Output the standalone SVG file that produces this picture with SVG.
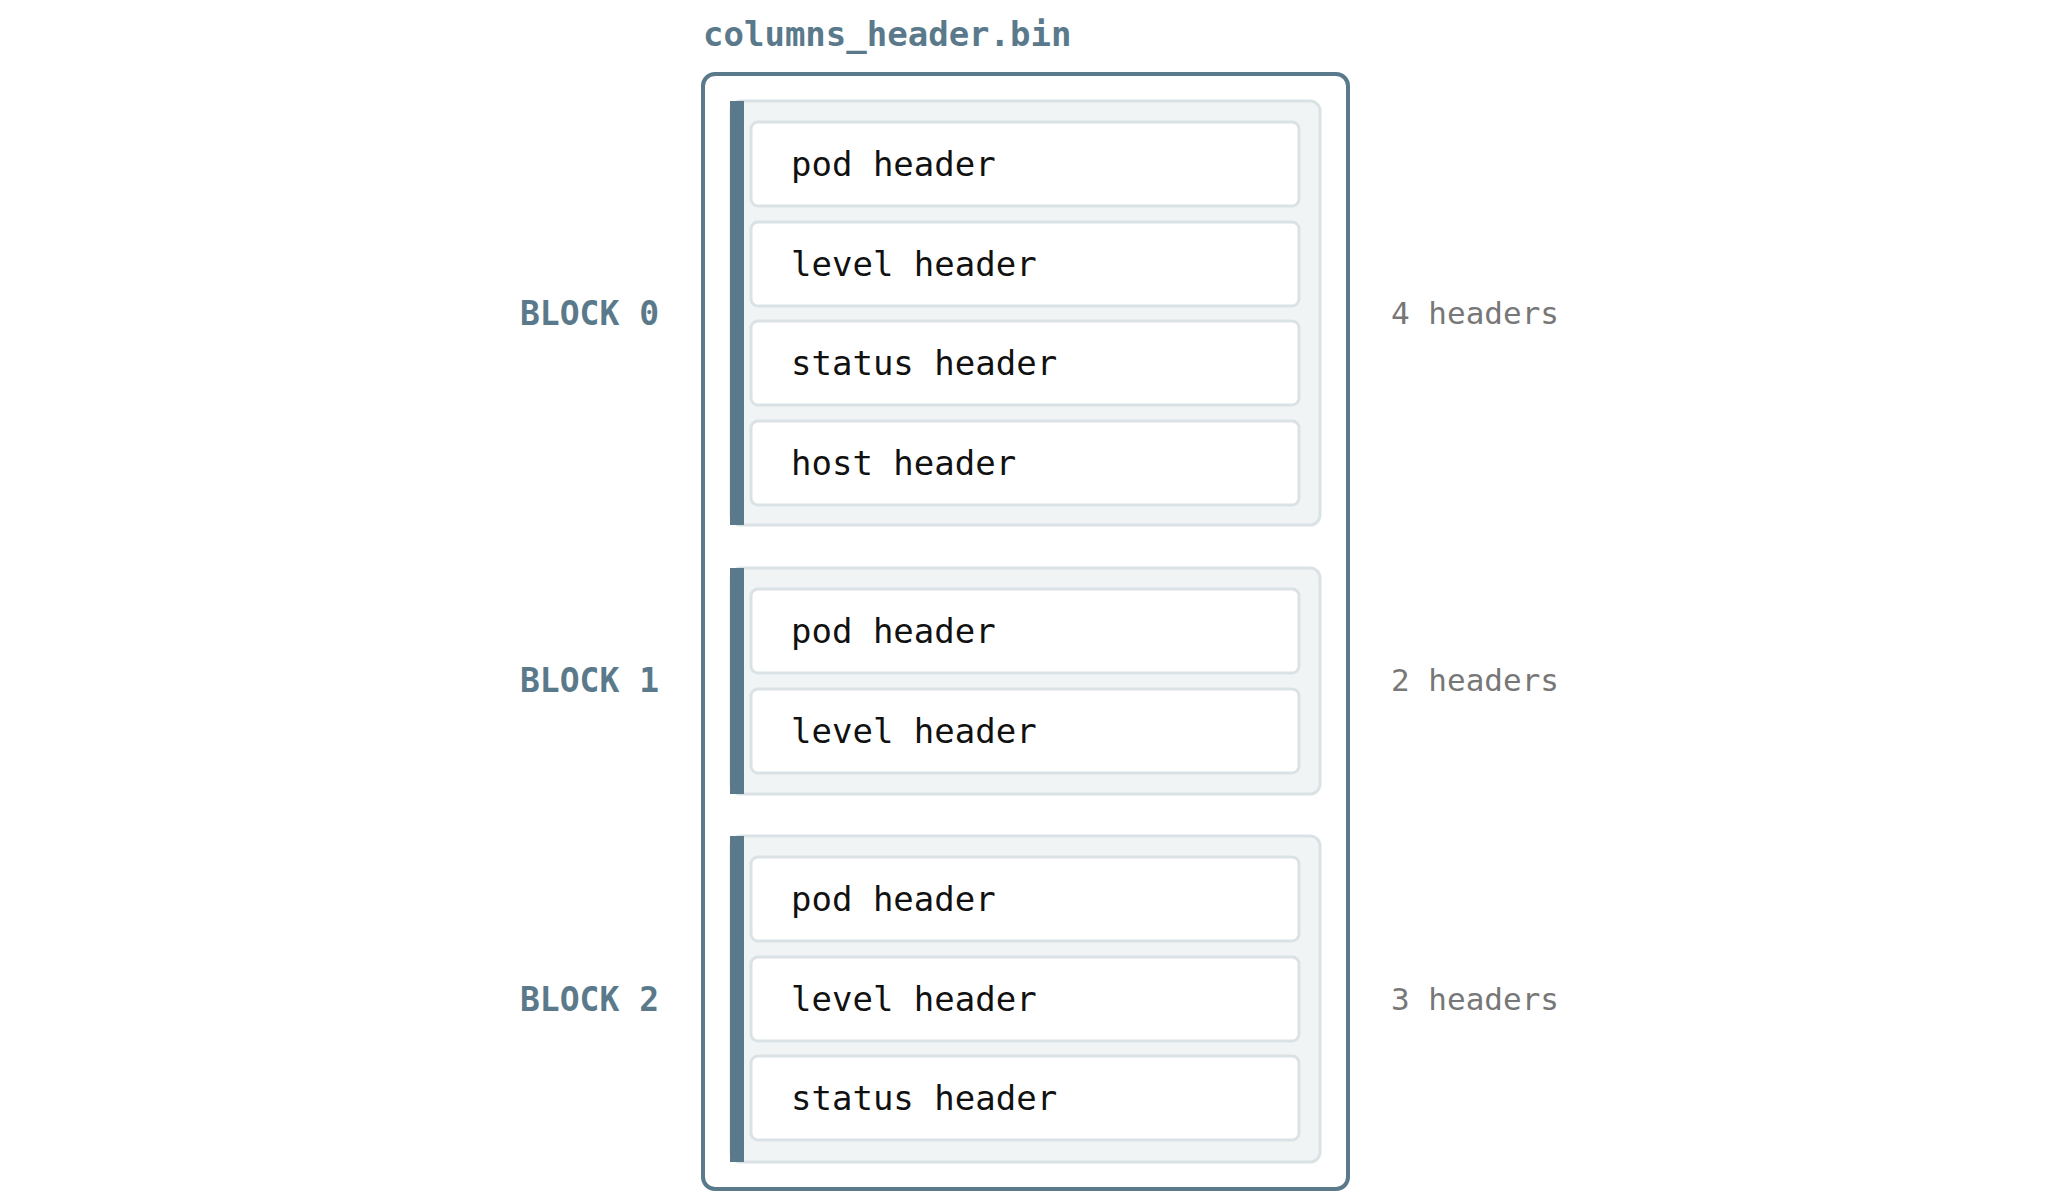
<svg xmlns="http://www.w3.org/2000/svg" width="2070" height="1204" viewBox="0 0 2070 1204">
<style>
.t{font-family:"DejaVu Sans Mono","Liberation Mono",monospace}
.title{font-size:34px;font-weight:bold;fill:#5a7a8b}
.blk{font-size:33px;font-weight:bold;fill:#5a7a8b}
.cnt{font-size:31px;fill:#777}
.row{fill:#fff;stroke:#dbe2e5;stroke-width:3}
.rt{font-size:34px;fill:#111}
.grp{fill:#f0f4f5;stroke:#dbe2e5;stroke-width:3}
.bar{fill:#5a7a8b}
</style>
<rect width="2070" height="1204" fill="#fff"/>
<g id="file">
<text class="t title" x="703" y="46">columns_header.bin</text>
<rect x="703" y="74" width="645" height="1115" rx="12" fill="#fff" stroke="#5a7a8b" stroke-width="4"/>
</g>
<g id="block0">
<rect class="grp" x="731" y="101" width="589" height="424" rx="10"/>
<rect class="bar" x="730" y="101" width="14" height="424"/>
<text class="t blk" x="520" y="325">BLOCK 0</text>
<text class="t cnt" x="1391" y="324">4 headers</text>
<rect class="row" x="751" y="122" width="548" height="84" rx="7"/><text class="t rt" x="791" y="176">pod header</text>
<rect class="row" x="751" y="222" width="548" height="84" rx="7"/><text class="t rt" x="791" y="276">level header</text>
<rect class="row" x="751" y="321" width="548" height="84" rx="7"/><text class="t rt" x="791" y="375">status header</text>
<rect class="row" x="751" y="421" width="548" height="84" rx="7"/><text class="t rt" x="791" y="475">host header</text>
</g>
<g id="block1">
<rect class="grp" x="731" y="568" width="589" height="226" rx="10"/>
<rect class="bar" x="730" y="568" width="14" height="226"/>
<text class="t blk" x="520" y="692">BLOCK 1</text>
<text class="t cnt" x="1391" y="691">2 headers</text>
<rect class="row" x="751" y="589" width="548" height="84" rx="7"/><text class="t rt" x="791" y="643">pod header</text>
<rect class="row" x="751" y="689" width="548" height="84" rx="7"/><text class="t rt" x="791" y="743">level header</text>
</g>
<g id="block2">
<rect class="grp" x="731" y="836" width="589" height="326" rx="10"/>
<rect class="bar" x="730" y="836" width="14" height="326"/>
<text class="t blk" x="520" y="1011">BLOCK 2</text>
<text class="t cnt" x="1391" y="1010">3 headers</text>
<rect class="row" x="751" y="857" width="548" height="84" rx="7"/><text class="t rt" x="791" y="911">pod header</text>
<rect class="row" x="751" y="957" width="548" height="84" rx="7"/><text class="t rt" x="791" y="1011">level header</text>
<rect class="row" x="751" y="1056" width="548" height="84" rx="7"/><text class="t rt" x="791" y="1110">status header</text>
</g>
<g id="connectors"/>
</svg>
